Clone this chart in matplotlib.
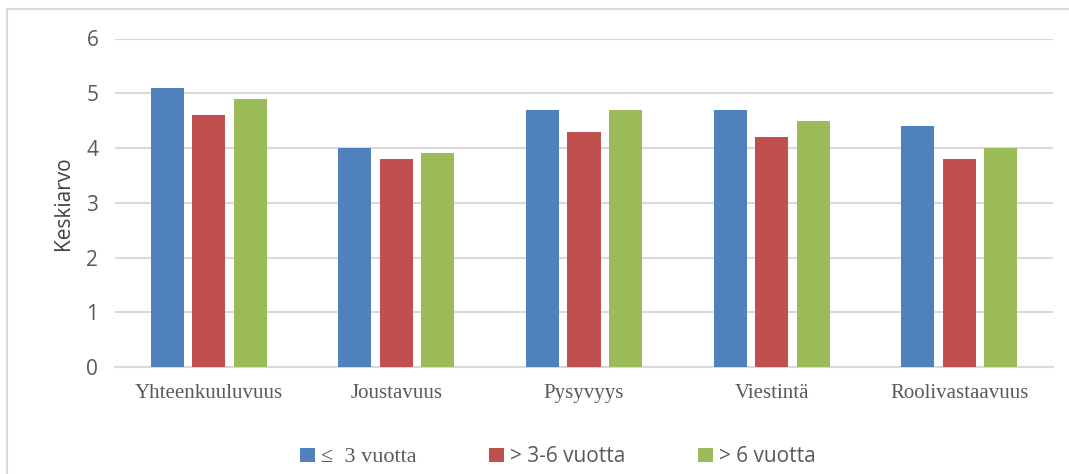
import numpy as np
import matplotlib.pyplot as plt
from matplotlib.patches import Rectangle

categories = ['Yhteenkuuluvuus', 'Joustavuus', 'Pysyvyys', 'Viestintä', 'Roolivastaavuus']
under3 = [5.1, 4.0, 4.7, 4.7, 4.4]
from3to6 = [4.6, 3.8, 4.3, 4.2, 3.8]
over6 = [4.9, 3.9, 4.7, 4.5, 4.0]
series_labels = ['≤  3 vuotta', '> 3-6 vuotta', '> 6 vuotta']
colors = ['#4f81bd', '#c0504d', '#9bbb59']

W, H = 1069, 474
fig = plt.figure(figsize=(W / 100, H / 100), dpi=100)

# light frame around the chart area
fig.patches.append(Rectangle((7 / W, -0.1), 1.2, 1 - 9 / H + 0.1, transform=fig.transFigure,
                             fill=False, edgecolor='#d9d9d9', linewidth=1.5))

ax = fig.add_axes([115 / W, 107 / H, (1053 - 115) / W, (435.5 - 107) / H])

x = np.arange(len(categories))
width = 0.176
step = 0.221
for i, (vals, c) in enumerate(zip([under3, from3to6, over6], colors)):
    ax.bar(x + (i - 1) * step, vals, width, color=c, label=series_labels[i], zorder=3)

ax.set_xlim(-0.5, len(categories) - 0.5)
ax.set_ylim(0, 6)
ax.set_yticks(range(0, 7))
ax.yaxis.grid(True, color='#d9d9d9', linewidth=1.5, zorder=0)
ax.set_axisbelow(True)
for s in ['top', 'right', 'left']:
    ax.spines[s].set_visible(False)
ax.spines['bottom'].set_color('#d9d9d9')
ax.spines['bottom'].set_linewidth(1.5)
ax.tick_params(axis='both', length=0)
ax.tick_params(axis='y', labelsize=15, labelcolor='#595959', pad=12)
for lab in ax.get_yticklabels():
    lab.set_fontfamily('Open Sans')

ax.set_xticks(x)
ax.set_xticklabels(categories, fontfamily='Liberation Serif', fontsize=15, color='#595959')
ax.tick_params(axis='x', pad=12)

ax.set_ylabel('Keskiarvo', fontfamily='Open Sans', fontsize=15, color='#404040', labelpad=9)

leg = fig.legend(loc='center', bbox_to_anchor=(0.522, 0.036), ncol=3, frameon=False,
                 handlelength=0.7, handleheight=0.7, handletextpad=0.3,
                 columnspacing=3.5, prop={'family': 'Open Sans', 'size': 15})
for t in leg.get_texts():
    t.set_color('#595959')
leg.get_texts()[0].set_fontfamily('Liberation Serif')
leg.get_texts()[0].set_fontsize(16)

fig.savefig('out.png', dpi=100)
